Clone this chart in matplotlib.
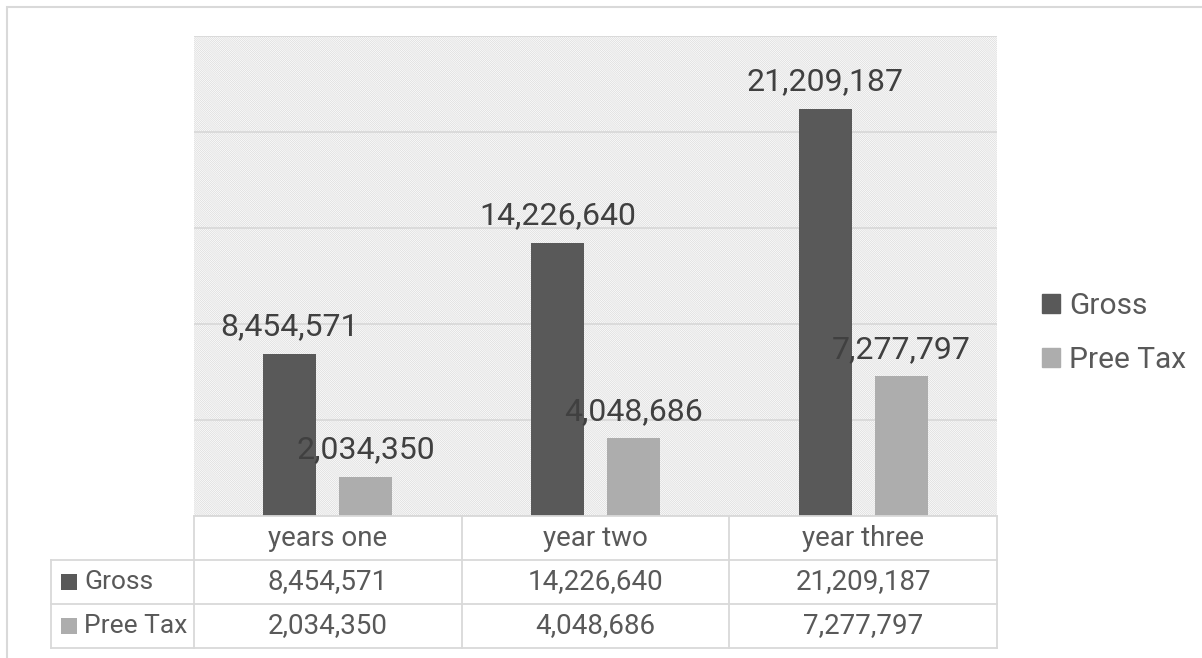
import numpy as np
import matplotlib
matplotlib.use("Agg")
import matplotlib.pyplot as plt
from matplotlib.patches import Rectangle, Patch

plt.rcParams['font.family'] = ['Roboto', 'DejaVu Sans']
plt.rcParams['hatch.linewidth'] = 0.5

# ---- data ----
categories = ["years one", "year two", "year three"]
series_names = ["Gross", "Pree Tax"]
gross = [8454571, 14226640, 21209187]
pree_tax = [2034350, 4048686, 7277797]
title = "Financial"

colors = ["#595959", "#ADADAD"]
grid_c = "#D9D9D9"
text_c = "#595959"
label_c = "#404040"

W, H = 1202, 658
def fx(px): return px / W
def fy(py): return 1 - py / H

fig = plt.figure(figsize=(W / 100, H / 100), dpi=100)

# outer chart frame (extends past right/bottom edges)
fig.add_artist(Rectangle((fx(6.5), fy(700)), fx(1300), (700 - 6.5) / H,
                         transform=fig.transFigure, fill=False,
                         edgecolor=grid_c, lw=1.5))
fig.text(fx(630), fy(4), title, ha='center', va='bottom', fontsize=14,
         fontweight='bold', family=['DejaVu Serif'], color='black')

# ---- main plot ----
L, R, T, B = 194, 997, 36, 516
ax = fig.add_axes([fx(L), fy(B), (R - L) / W, (B - T) / H])
x = np.arange(len(categories))
bw, off = 0.198, 0.142
ax.add_patch(Rectangle((0, 0), 1, 1, transform=ax.transAxes, facecolor='none',
                       edgecolor='#DADADA', hatch='\\' * 16, lw=0, zorder=0))
b1 = ax.bar(x - off, gross, bw, color=colors[0], zorder=2, label=series_names[0])
b2 = ax.bar(x + off, pree_tax, bw, color=colors[1], zorder=2, label=series_names[1])
for bars, vals in ((b1, gross), (b2, pree_tax)):
    ax.bar_label(bars, labels=[f"{v:,}" for v in vals], padding=9,
                 fontsize=23, color=label_c, zorder=3)
ax.set_xlim(-0.5, 2.5)
ax.set_ylim(0, 25e6)
ax.set_yticks(np.arange(0, 25e6 + 1, 5e6))
ax.yaxis.grid(True, color=grid_c, lw=1.3, zorder=0.5)
ax.set_axisbelow(True)
ax.tick_params(length=0, labelleft=False, labelbottom=False)
for s in ax.spines.values():
    s.set_visible(False)

# ---- data table ----
TB = 648
tax = fig.add_axes([fx(L), fy(TB), (R - L) / W, (TB - B) / H])
tax.set_xlim(-0.5, 2.5)
tax.set_ylim(3, 0)
tax.axis('off')
cw = (R - L) / 3.0
xl = -0.5 - (L - 51) / cw
lk = dict(color=grid_c, lw=1.3, clip_on=False, solid_capstyle='projecting')
tax.plot([-0.5, 2.5], [0, 0], **lk)
for yy in (1, 2, 3):
    tax.plot([xl, 2.5], [yy, yy], **lk)
tax.plot([xl, xl], [1, 3], **lk)
for xx in (-0.5, 0.5, 1.5, 2.5):
    tax.plot([xx, xx], [0, 3], **lk)
fs_t = 20
for i, c in enumerate(categories):
    tax.text(i, 0.5, c, ha='center', va='center', fontsize=fs_t, color=text_c)
for r, vals in enumerate((gross, pree_tax)):
    for i, v in enumerate(vals):
        tax.text(i, 1.5 + r, f"{v:,}", ha='center', va='center', fontsize=fs_t, color=text_c)
    tax.plot([-0.5 - (L - 69) / cw], [1.5 + r], marker='s', ms=11, color=colors[r],
             clip_on=False, mew=0)
    tax.text(-0.5 - (L - 84) / cw, 1.5 + r, series_names[r], ha='left', va='center',
             fontsize=19, color=text_c)

# ---- legend ----
handles = [Patch(color=colors[0]), Patch(color=colors[1])]
leg = fig.legend(handles, series_names, loc='center left',
                 bbox_to_anchor=(fx(1042), fy(333)), frameon=False, fontsize=21.5,
                 handlelength=0.6, handleheight=0.6, handletextpad=0.3,
                 labelspacing=0.9, borderpad=0, borderaxespad=0)
for t in leg.get_texts():
    t.set_color(text_c)

fig.savefig("out.png", dpi=100)
